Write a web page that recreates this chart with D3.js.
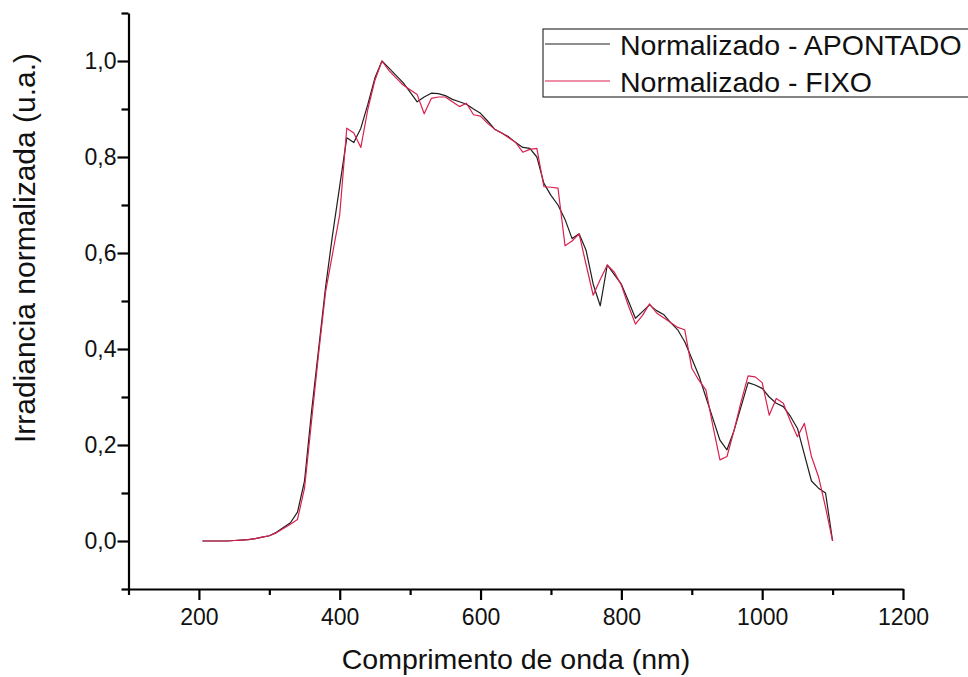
<!DOCTYPE html>
<html><head><meta charset="utf-8">
<script src="https://cdn.jsdelivr.net/npm/d3@7"></script>
<style>body{margin:0;background:#fff;} text{font-family:"Liberation Sans",Arial,sans-serif;}</style>
</head><body>
<svg id="c" width="968" height="677"></svg>
<script>
const wavelength = [205,210,220,230,240,250,260,270,280,290,300,310,320,330,340,350,360,370,380,390,400,410,420,430,440,450,460,470,480,490,500,510,520,530,540,550,560,570,580,590,600,610,620,630,640,650,660,670,680,690,700,710,720,730,740,750,760,770,780,790,800,810,820,830,840,850,860,870,880,890,900,910,920,930,940,950,960,970,980,990,1000,1010,1020,1030,1040,1050,1060,1070,1080,1090,1100];
const apontado = [0,0,0,0,0,0.001,0.002,0.003,0.005,0.008,0.011,0.018,0.028,0.038,0.060,0.125,0.27,0.40,0.53,0.64,0.74,0.84,0.83,0.86,0.91,0.965,1.0,0.985,0.97,0.955,0.935,0.915,0.925,0.933,0.932,0.928,0.92,0.915,0.91,0.90,0.891,0.875,0.858,0.85,0.842,0.83,0.82,0.818,0.80,0.745,0.72,0.70,0.67,0.63,0.64,0.605,0.535,0.49,0.575,0.555,0.535,0.50,0.464,0.478,0.492,0.48,0.472,0.455,0.44,0.415,0.38,0.345,0.30,0.255,0.21,0.19,0.23,0.28,0.33,0.325,0.318,0.30,0.287,0.28,0.26,0.235,0.18,0.125,0.11,0.10,0.0];
const fixo = [0,0,0,0,0,0.001,0.002,0.003,0.005,0.008,0.011,0.017,0.026,0.035,0.045,0.11,0.25,0.39,0.52,0.60,0.68,0.86,0.85,0.82,0.90,0.96,1.0,0.98,0.965,0.95,0.94,0.93,0.89,0.922,0.925,0.925,0.915,0.905,0.912,0.888,0.885,0.87,0.858,0.85,0.84,0.83,0.81,0.816,0.818,0.738,0.737,0.735,0.615,0.625,0.64,0.575,0.512,0.545,0.575,0.56,0.533,0.49,0.452,0.47,0.494,0.475,0.465,0.455,0.445,0.44,0.36,0.335,0.315,0.24,0.169,0.176,0.23,0.29,0.344,0.342,0.33,0.262,0.297,0.287,0.25,0.217,0.245,0.176,0.134,0.07,0.0];
const seriesNames = ["Normalizado - APONTADO","Normalizado - FIXO"];
const seriesColors = ["#1e1e1e","#d9204e"];
const xTicks = [100,200,300,400,500,600,700,800,900,1000,1100,1200];
const yTicks = [-0.1,0,0.1,0.2,0.3,0.4,0.5,0.6,0.7,0.8,0.9,1.0,1.1];
const xTitle = "Comprimento de onda (nm)";
const yTitle = "Irradiancia normalizada (u.a.)";

const svg = d3.select("#c");
const x = d3.scaleLinear().domain([100,1200]).range([128.5,903]);
const y = d3.scaleLinear().domain([-0.1,1.1]).range([589,13]);

const line = d3.line().x((d,i)=>x(wavelength[i])).y(d=>y(d));
[apontado,fixo].forEach((s,k)=>{
  svg.append("path").datum(s).attr("d",line).attr("fill","none")
    .attr("stroke",seriesColors[k]).attr("stroke-width",1.2).attr("stroke-linejoin","round");
});

const isMajX = v => v % 200 === 0;
const isMajY = v => Math.abs(Math.round(v*10)) % 2 === 0 && v >= 0 && v <= 1.0001;
const gx = svg.append("g").attr("transform","translate(0,589)")
  .call(d3.axisBottom(x).tickValues(xTicks).tickSizeOuter(0).tickPadding(8)
    .tickFormat(v=>isMajX(v)?String(v):""));
gx.selectAll(".tick line").attr("y2",v=>isMajX(v)?11:6);
const gy = svg.append("g").attr("transform","translate(128.5,0)")
  .call(d3.axisLeft(y).tickValues(yTicks).tickSizeOuter(0).tickPadding(6)
    .tickFormat(v=>isMajY(v)?d3.format(".1f")(v).replace(".",","):""));
gy.selectAll(".tick line").attr("x2",v=>isMajY(v)?-11:-7);
[gx,gy].forEach(g=>{
  g.select(".domain").attr("stroke","#000").attr("stroke-width",2.2);
  g.selectAll(".tick line").attr("stroke","#000").attr("stroke-width",2.2);
  g.selectAll("text").attr("font-size",23).attr("fill","#111").attr("font-family","'Liberation Sans',Arial,sans-serif");
});
gx.selectAll("text").attr("dy","0.95em");

svg.append("text").attr("x",516).attr("y",669).attr("text-anchor","middle")
  .attr("font-size",28.5).attr("fill","#111").text(xTitle);
svg.append("text").attr("transform","translate(35,248) rotate(-90)").attr("text-anchor","middle")
  .attr("font-size",30).attr("fill","#111").text(yTitle);

const lg = svg.append("g");
lg.append("rect").attr("x",543).attr("y",29).attr("width",440).attr("height",68)
  .attr("fill","#fff").attr("stroke","#333").attr("stroke-width",1.2);
seriesNames.forEach((n,k)=>{
  const yy = 44 + k*37;
  lg.append("line").attr("x1",545).attr("x2",610).attr("y1",yy).attr("y2",yy)
    .attr("stroke",seriesColors[k]).attr("stroke-width",1.2);
  lg.append("text").attr("x",620).attr("y",yy+11).attr("font-size",28.5).attr("fill","#111").text(n);
});
</script>
</body></html>
